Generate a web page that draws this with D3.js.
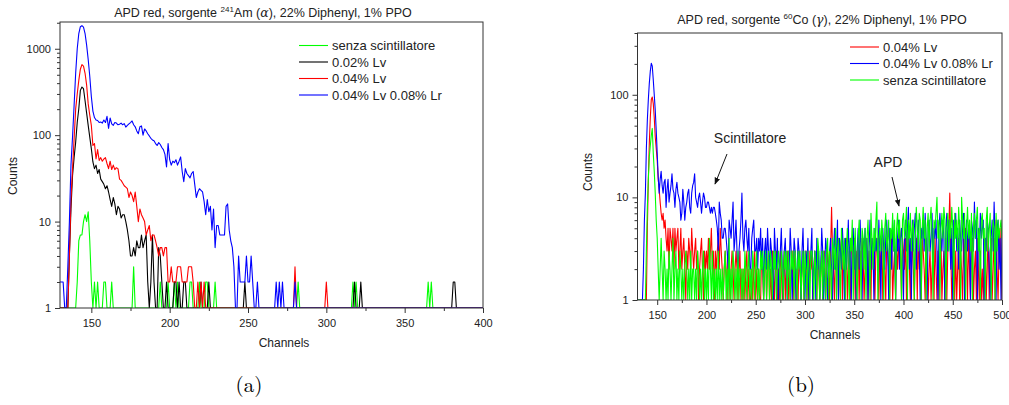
<!DOCTYPE html>
<html>
<head>
<meta charset="utf-8">
<script src="https://cdn.jsdelivr.net/npm/d3@7"></script>
<style>
  body { margin: 0; background: #fff; }
  svg { display: block; }
  text { font-family: "Liberation Sans", Arial, sans-serif; fill: #222; }
</style>
</head>
<body>
<svg id="chart" width="1009" height="405"></svg>
<script>
// ---------- panel (a): 241Am, counts per channel, dense part starts at channel 130
const firstChannel = 130;

const blueA = [
  2,2,2,1,0,3,10,45,95,220,
  520,1000,1500,1800,1850,1780,1500,1100,750,480,
  280,190,160,150,148,140,142,138,150,140,
  165,120,158,135,130,140,138,132,134,138,
  132,136,124,130,135,140,146,132,125,112,
  104,125,128,100,118,112,104,98,92,88,
  86,80,76,82,78,72,68,60,43,80,
  52,45,50,48,52,45,50,56,38,29,
  41,36,34,32,36,38,27,19,22,24,
  23,22,17,12,18,13,15,8,14,5,
  9,9,7,7,7,7,15,16,8,6,
  5,3,0,1,4,2,2,2,2,4,
  2,2,4,2,0,0,2,0
];
const blueASpikes = [[268, 2], [270, 2], [272, 2], [280, 2]];

const redA = [
  0,0,0,0,0,1,4,18,41,90,
  200,300,430,580,655,630,520,380,230,170,
  130,76,80,53,68,51,55,50,53,55,
  47,41,50,40,45,40,42,41,31,30,
  28,26,25,24,19,22,20,17,22,15,
  10,14,12,11,10,7,8,9,6,7,
  7,6,5,4,5,5,4,5,5,2,
  2,3,2,2,2,3,3,3,2,2,
  2,2,3,3,3,2,0,0,2,0,
  2,0,2,0
];
const redASpikes = [[280, 3], [300, 2]];

const blackA = [
  0,0,0,0,0,1,4,14,34,55,
  83,140,202,330,360,345,250,180,130,95,
  70,49,41,45,36,40,31,29,27,24,
  26,22,18,15,19,16,12,15,14,11,
  12,12,10,8,6,4,4,5,4,6,
  5,5,7,5,6,7,2,0,2,7,
  2,0,0,5,4,2,0,0,2,0,
  0,0,0,2,2,0,2,0,0,2,
  2,0
];
const blackASpikes = [[220, 2], [225, 2], [248, 2], [318, 2], [322, 2], [381, 2], [382, 2]];

const greenA = [
  0,0,0,0,0,0,0,0,0,0,
  0,2,6,7,7,10,12,10,13,6,
  2,0
];
const greenASpikes = [[152, 2], [154, 2], [158, 2], [159, 2], [163, 2], [177, 3], [194, 2], [199, 2],
  [203, 2], [205, 2], [213, 2], [214, 2], [219, 2], [223, 2], [224, 2], [229, 2], [282, 2],
  [317, 2], [319, 2], [365, 2], [367, 2]];

// ---------- panel (b): 60Co, counts per channel 130..500
const redB = [
  0,0,0,0,0,0,0,0,0,1,
  5,15,34,60,90,95,82,60,39,30,
  23,15,12,9,7,6,7,5,6,4,
  3,5,2,5,4,3,5,2,5,3,
  4,5,2,3,5,2,3,4,2,1,
  3,2,4,3,2,5,3,2,3,4,
  2,3,1,2,3,4,2,0,3,2,
  3,2,4,2,3,5,2,3,1,3,
  2,3,4,2,5,3,2,0,2,3,
  2,0,3,2,1,2,3,2,0,2,
  3,2,0,2,3,0,2,1,2,0,
  2,3,0,2,0,1,2,0,2,3,
  0,2,0,2,1,0,3,2,0,2,
  3,0,2,3,0,2,0,3,2,0,
  2,3,0,2,0,3,2,0,2,3,
  0,2,3,0,2,0,2,3,0,2,
  3,0,2,0,3,2,0,2,3,0,
  2,3,0,2,0,3,2,3,0,2,
  3,2,0,3,2,0,2,3,0,2,
  3,0,2,3,2,0,3,8,3,2,
  0,3,2,3,0,2,3,4,0,3,
  2,3,4,0,2,3,0,4,3,2,
  4,0,3,2,4,0,3,2,4,3,
  0,2,4,3,0,3,2,0,4,3,
  2,0,3,4,2,0,3,2,4,0,
  3,2,0,4,3,2,0,3,4,0,
  2,3,0,4,2,3,5,3,0,4,
  3,2,4,0,3,5,2,0,4,3,
  2,0,3,4,0,5,2,3,0,4,
  3,2,0,4,3,0,2,3,0,2,
  3,0,4,2,0,3,0,2,4,0,
  2,3,0,4,0,3,5,11,3,0,
  2,4,0,3,0,2,4,0,3,2,
  0,4,2,5,3,0,4,2,0,3,
  4,0,2,3,0,4,2,0,3,0,
  2,0,3,4,0,2,5,0,3,4,
  0,2,4,0,6,2,0,3,5,2,
  0
];

const blueB = [
  0,0,0,0,0,1,2,6,11,30,
  57,90,130,170,203,190,140,100,71,45,
  27,16,11,15,18,13,11,14,15,8,
  12,15,9,11,13,17,12,11,8,12,
  14,11,10,9,6,7,12,9,6,8,
  9,11,12,8,7,11,13,14,17,10,
  9,8,10,11,9,7,9,11,10,8,
  8,9,9,8,7,8,7,8,8,7,
  6,5,3,9,7,6,4,4,5,5,
  4,3,2,6,5,4,6,9,3,4,
  6,3,2,3,4,6,11,4,3,5,
  6,4,3,5,2,2,4,5,6,3,
  3,4,2,4,3,5,2,4,1,3,
  4,2,5,3,2,4,3,2,0,5,
  3,2,4,0,2,3,5,2,0,3,
  4,2,0,3,2,5,3,0,2,4,
  3,0,2,4,3,2,0,3,5,2,
  0,3,2,4,0,2,3,5,0,2,
  3,0,4,2,3,0,2,5,3,0,
  2,4,3,0,2,3,4,2,0,3,
  5,2,3,6,0,4,3,2,5,3,
  0,4,2,3,6,2,4,0,3,5,
  2,4,0,3,5,2,6,3,0,4,
  3,5,2,4,0,3,6,2,4,3,
  0,5,3,4,2,6,3,0,4,5,
  3,2,4,6,3,0,5,4,2,6,
  3,4,0,5,3,6,2,4,5,3,
  0,4,6,3,5,8,2,4,0,6,
  3,5,7,2,4,6,3,0,5,4,
  6,3,7,4,0,5,6,3,4,7,
  2,5,4,6,3,0,5,7,4,3,
  6,4,0,5,7,3,6,4,2,5,
  0,6,4,7,3,5,2,6,4,3,
  5,7,0,4,6,3,5,4,0,6,
  5,3,9,4,6,0,5,3,7,4,
  5,6,0,4,3,6,5,2,0,4,
  6,3,9,4,0,5,6,2,4,0,
  5
];

const greenB = [
  0,0,0,0,0,0,0,0,1,3,
  8,15,25,32,40,47,27,18,11,6,
  4,2,0,2,4,2,0,3,2,0,
  2,0,3,2,0,2,4,0,2,3,
  0,2,0,3,2,0,2,0,2,3,
  2,0,2,0,3,0,2,2,0,2,
  0,3,2,0,2,0,2,3,0,2,
  0,2,0,4,2,0,3,0,2,0,
  2,0,3,0,2,0,2,0,2,3,
  0,2,0,4,0,2,0,3,2,0,
  2,0,3,0,2,2,0,2,0,3,
  2,0,2,3,0,2,0,3,2,0,
  2,3,0,2,0,3,2,3,0,2,
  3,0,2,3,0,3,2,0,3,2,
  3,0,2,3,2,0,3,2,0,3,
  2,3,0,3,2,0,3,2,3,0,
  3,2,0,3,2,3,0,2,3,0,
  3,2,0,3,2,0,3,3,2,0,
  3,2,0,4,3,0,2,3,0,3,
  2,0,3,4,0,3,2,0,4,3,
  2,5,0,3,4,2,0,5,3,2,
  4,0,3,5,2,0,4,3,6,0,
  3,5,2,0,4,6,3,0,5,4,
  2,5,0,4,6,3,0,7,4,2,
  5,3,6,9,0,4,5,3,6,4,
  0,5,7,3,4,6,0,5,4,7,
  3,6,0,5,7,4,6,3,0,6,
  7,4,5,8,0,6,4,7,3,5,
  6,0,4,8,5,3,7,6,0,5,
  8,4,6,0,5,7,3,6,8,4,
  0,6,5,7,10,4,6,0,5,7,
  4,8,6,0,5,7,3,6,4,8,
  5,0,7,4,6,3,8,5,0,10,
  6,4,7,0,5,8,4,6,3,7,
  0,5,7,4,6,8,3,5,0,6,
  7,4,5,0,6,8,3,5,7,0,
  4,6,5,0,7,3,6,4,5,6,
  4
];

// ticks and labels
const xTicksA = [150, 200, 250, 300, 350, 400];
const xMinorA = [175, 225, 275, 325, 375];
const yTicksA = [1, 10, 100, 1000];
const xTicksB = [150, 200, 250, 300, 350, 400, 450, 500];
const xMinorB = [175, 225, 275, 325, 375, 425, 475];
const yTicksB = [1, 10, 100];

const legendA = ["senza scintillatore", "0.02% Lv", "0.04% Lv", "0.04% Lv 0.08% Lr"];
const legendB = ["0.04% Lv", "0.04% Lv 0.08% Lr", "senza scintillatore"];

const GREEN = "#00ff00", BLACK = "#000000", RED = "#ff0000", BLUE = "#0000ff";
const SERIF = "'Latin Modern Roman', 'CMU Serif', 'DejaVu Serif', 'Liberation Serif', serif";

// full channel list: zero where nothing was recorded
function spectrum(dense, spikes, lastCh) {
  const counts = d3.range(firstChannel, lastCh + 1).map(() => 0);
  dense.forEach((c, i) => counts[i] = c);
  (spikes || []).forEach(([ch, c]) => counts[ch - firstChannel] = c);
  return counts.map((c, i) => ({ ch: firstChannel + i, c: c }));
}

const svg = d3.select("#chart");
svg.append("defs").append("marker")
  .attr("id", "arrow")
  .attr("viewBox", "0 0 10 10")
  .attr("refX", 9).attr("refY", 5)
  .attr("markerWidth", 7).attr("markerHeight", 7)
  .attr("markerUnits", "userSpaceOnUse")
  .attr("orient", "auto")
  .append("path").attr("d", "M0,1L10,5L0,9Z").attr("fill", "#111");

function minorLogTicks(top) {
  const out = [];
  for (let d = 1; d <= top; d *= 10)
    for (let k = 2; k <= 9; k++) if (d * k <= top) out.push(d * k);
  return out;
}

function drawPanel(p) {
  const g = svg.append("g");
  const x = d3.scaleLinear().domain(p.xDomain).range([p.left, p.right]);
  const y = d3.scaleLog().domain(p.yDomain).range([p.bottom, p.top]).clamp(true);

  g.append("clipPath").attr("id", "clip" + p.id).append("rect")
    .attr("x", p.left).attr("y", p.top)
    .attr("width", p.right - p.left).attr("height", p.bottom - p.top);

  const line = d3.line().x(d => x(d.ch)).y(d => y(d.c));
  p.series.forEach(s => {
    g.append("path").datum(s.points)
      .attr("clip-path", "url(#clip" + p.id + ")")
      .attr("fill", "none")
      .attr("stroke", s.color)
      .attr("stroke-width", 1.1)
      .attr("stroke-linejoin", "round")
      .attr("d", line);
  });

  // axes
  const styleAxis = a => {
    a.select(".domain").remove();
    a.selectAll("line").attr("stroke", "#333");
    a.selectAll("text").attr("font-size", 11).attr("font-family", null).attr("fill", "#222");
  };
  g.append("g").attr("transform", "translate(0," + p.bottom + ")")
    .call(d3.axisBottom(x).tickValues(p.xTicks).tickSize(5).tickPadding(6).tickFormat(d3.format("d")))
    .call(styleAxis);
  g.append("g").attr("transform", "translate(0," + p.bottom + ")")
    .call(d3.axisBottom(x).tickValues(p.xMinor).tickSize(3).tickFormat(""))
    .call(styleAxis);
  g.append("g").attr("transform", "translate(" + p.left + ",0)")
    .call(d3.axisLeft(y).tickValues(p.yTicks).tickSize(5).tickPadding(4).tickFormat(d3.format("d")))
    .call(styleAxis);
  g.append("g").attr("transform", "translate(" + p.left + ",0)")
    .call(d3.axisLeft(y).tickValues(minorLogTicks(p.yDomain[1])).tickSize(3).tickFormat(""))
    .call(styleAxis);

  g.append("rect")
    .attr("x", p.left).attr("y", p.top)
    .attr("width", p.right - p.left).attr("height", p.bottom - p.top)
    .attr("fill", "none").attr("stroke", "#333").attr("stroke-width", 1);

  // axis titles
  g.append("text").attr("x", p.xLabelX).attr("y", p.bottom + 39)
    .attr("text-anchor", "middle").attr("font-size", 12).text("Channels");
  g.append("text")
    .attr("transform", "translate(" + p.yLabelX + "," + p.yLabelY + ") rotate(-90)")
    .attr("text-anchor", "middle").attr("font-size", 12).text("Counts");

  // legend
  const lg = g.append("g").selectAll("g").data(p.series.filter(s => s.label))
    .join("g")
    .attr("transform", (s, i) => "translate(" + p.legendX + "," + (p.legendY + i * 16.5) + ")");
  lg.append("line").attr("x1", 0).attr("x2", 29).attr("y1", 0).attr("y2", 0)
    .attr("stroke", s => s.color).attr("stroke-width", 1.1);
  lg.append("text").attr("x", 33).attr("y", 4.5).attr("font-size", 13).text(s => s.label);

  // caption
  g.append("text").attr("x", p.captionX).attr("y", 392)
    .attr("text-anchor", "middle")
    .style("font-family", SERIF)
    .style("fill", "#000")
    .attr("font-size", 21).text(p.caption);

  return { x, y, g };
}

function addTitle(cx, cy, sup, elem, greek) {
  const t = svg.append("text").attr("x", cx).attr("y", cy)
    .attr("text-anchor", "middle").attr("font-size", 12.5);
  t.append("tspan").text("APD red, sorgente ");
  t.append("tspan").attr("font-size", 8).attr("dy", -5).text(sup);
  t.append("tspan").attr("dy", 5).text(elem + " (");
  t.append("tspan").style("font-family", SERIF).style("font-style", "italic").text(greek);
  t.append("tspan").text("), 22% Diphenyl, 1% PPO");
}

// panel (a)
drawPanel({
  id: "a", left: 60, right: 483, top: 22, bottom: 308,
  xDomain: [130, 400], yDomain: [1, 2040],
  xTicks: xTicksA, xMinor: xMinorA, yTicks: yTicksA,
  xLabelX: 284, yLabelX: 17, yLabelY: 176,
  legendX: 299, legendY: 45.5,
  captionX: 249, caption: "(a)",
  series: [
    { label: legendA[0], color: GREEN, points: spectrum(greenA, greenASpikes, 400) },
    { label: legendA[1], color: BLACK, points: spectrum(blackA, blackASpikes, 400) },
    { label: legendA[2], color: RED, points: spectrum(redA, redASpikes, 400) },
    { label: legendA[3], color: BLUE, points: spectrum(blueA, blueASpikes, 400) }
  ]
});
addTitle(263, 17, "241", "Am", "\u03b1");

// panel (b)
drawPanel({
  id: "b", left: 637.5, right: 1002, top: 33, bottom: 300,
  xDomain: [130, 500], yDomain: [1, 400],
  xTicks: xTicksB, xMinor: xMinorB, yTicks: yTicksB,
  xLabelX: 835, yLabelX: 592, yLabelY: 172,
  legendX: 850, legendY: 47,
  captionX: 801, caption: "(b)",
  series: [
    { label: legendB[0], color: RED, points: spectrum(redB, [], 500) },
    { label: legendB[1], color: BLUE, points: spectrum(blueB, [], 500) },
    { label: legendB[2], color: GREEN, points: spectrum(greenB, [], 500) }
  ]
});
addTitle(822, 24, "60", "Co", "\u03b3");

// annotations on panel (b)
const notes = [
  { text: "Scintillatore", tx: 750, ty: 143, from: [727, 154], to: [715, 184] },
  { text: "APD", tx: 888, ty: 167, from: [892, 177], to: [899, 206] }
];
notes.forEach(n => {
  svg.append("text").attr("x", n.tx).attr("y", n.ty).attr("text-anchor", "middle")
    .attr("font-size", 14).text(n.text);
  svg.append("line").attr("x1", n.from[0]).attr("y1", n.from[1])
    .attr("x2", n.to[0]).attr("y2", n.to[1])
    .attr("stroke", "#111").attr("stroke-width", 1).attr("marker-end", "url(#arrow)");
});
</script>
</body>
</html>
